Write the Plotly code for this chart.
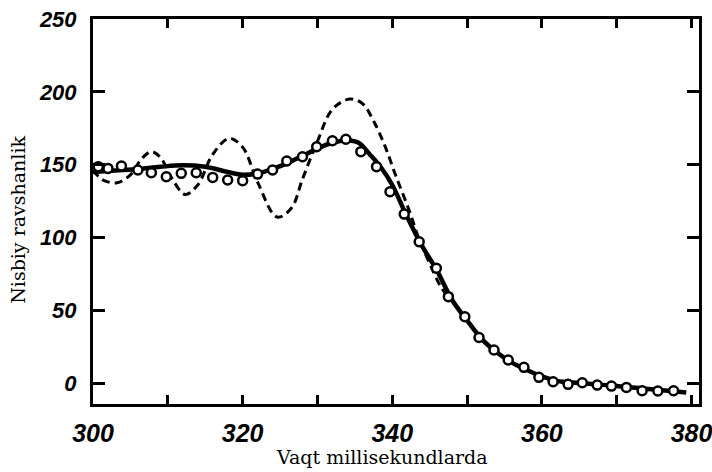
import plotly.graph_objects as go

# Measured relative brightness (open circles)
meas_t = [300.7, 302.0, 303.8, 306.0, 307.8, 309.8, 311.8, 313.8, 316.0, 318.0,
          320.0, 322.0, 324.0, 325.9, 328.0, 329.9, 332.0, 333.8, 335.8, 337.9,
          339.7, 341.6, 343.6, 345.9, 347.5, 349.7, 351.6, 353.6, 355.5, 357.6,
          359.6, 361.5, 363.5, 365.4, 367.4, 369.3, 371.3, 373.4, 375.5, 377.6]
meas_b = [148.6, 147.4, 149.0, 146.3, 144.4, 141.7, 144.0, 144.4, 141.2, 139.4,
          139.0, 143.5, 146.3, 152.5, 155.4, 162.3, 166.4, 167.4, 158.9, 148.6,
          131.4, 116.0, 97.0, 78.8, 59.3, 45.5, 31.3, 22.7, 15.8, 10.8,
          3.9, 0.9, -0.9, 0.2, -1.4, -2.1, -3.0, -5.3, -5.5, -5.3]

# Smooth fitted curve (solid line)
fit_t = [300, 303, 306, 309, 312, 315, 318, 320, 322, 324, 326, 328, 330, 332,
         334, 335.5, 337, 338.5, 340, 342, 344, 346, 348, 350, 352, 354, 356,
         358, 360, 362, 365, 370, 375, 379.3]
fit_b = [145, 146, 147, 148.5, 149.5, 148.5, 145, 143, 144, 147, 151, 156, 161,
         165, 166.5, 165, 157, 148, 136, 114, 94, 77, 57, 43, 30, 21, 14,
         9, 4.5, 1.5, 0, -2, -4.5, -6.5]

# Oscillating curve (dashed line)
osc_t = [300.0, 300.7, 301.5, 303.2, 305.0, 306.5, 307.8, 309.0, 310.5, 312.3,
         314.0, 316.0, 318.2, 320.0, 322.0, 324.6, 326.5, 328.0, 330.0, 332.0,
         334.3, 336.0, 337.5, 339.0, 340.5, 342.3, 343.5, 345.0, 346.5, 347.5]
osc_b = [146, 142, 139, 137.5, 143, 154, 158.9, 155, 141, 129.5,
         136, 157, 168, 162, 138, 114, 120, 140, 166, 188,
         195, 192, 180, 163, 142, 118, 100, 82, 66, 59]

x_ticks = [300, 310, 320, 330, 340, 350, 360, 370, 380]
x_labels = ["300", "", "320", "", "340", "", "360", "", "380"]
y_ticks = [0, 50, 100, 150, 200, 250]
y_labels = ["0", "50", "100", "150", "200", "250"]


def slanted(labels):
    return ["<b><i>%s</i></b>" % s if s else "" for s in labels]


tick_family = "Liberation Sans, Arial, sans-serif"
title_font = dict(family="DejaVu Serif, Liberation Serif, serif", size=19, color="black")

fig = go.Figure()
fig.add_trace(go.Scatter(x=osc_t, y=osc_b, mode="lines", line_shape="spline",
                         line=dict(color="black", width=3, dash="8px,5px"),
                         showlegend=False))
fig.add_trace(go.Scatter(x=fit_t, y=fit_b, mode="lines", line_shape="spline",
                         line=dict(color="black", width=4.5), showlegend=False))
fig.add_trace(go.Scatter(x=meas_t, y=meas_b, mode="markers",
                         marker=dict(symbol="circle", size=9, color="white",
                                     line=dict(color="black", width=2.5)),
                         showlegend=False))

fig.update_xaxes(range=[300, 381], tickvals=x_ticks, ticktext=slanted(x_labels),
                 ticks="inside", ticklen=9, tickwidth=2.5, tickcolor="black",
                 showline=True, linewidth=3, linecolor="black", mirror="ticks",
                 showgrid=False, zeroline=False, automargin=False,
                 ticklabeloverflow="allow",
                 tickfont=dict(family=tick_family, size=25, color="black"),
                 ticklabelstandoff=5)
fig.update_yaxes(range=[-14.4, 250], tickvals=y_ticks, ticktext=slanted(y_labels),
                 ticks="inside", ticklen=12, tickwidth=2.5, tickcolor="black",
                 showline=True, linewidth=3, linecolor="black", mirror="ticks",
                 showgrid=False, zeroline=False, automargin=False,
                 ticklabeloverflow="allow",
                 tickfont=dict(family=tick_family, size=22, color="black"),
                 ticklabelstandoff=9)

fig.add_annotation(text="Vaqt millisekundlarda", xref="paper", yref="paper",
                   x=0.477, y=-0.137, showarrow=False, font=title_font,
                   xanchor="center", yanchor="middle")
fig.add_annotation(text="Nisbiy ravshanlik", xref="paper", yref="paper",
                   x=-0.124, y=0.478, showarrow=False, font=title_font,
                   textangle=-90, xanchor="center", yanchor="middle")

fig.update_layout(width=712, height=472,
                  margin=dict(l=93, r=13, t=19, b=68, autoexpand=False),
                  paper_bgcolor="white", plot_bgcolor="white")

fig.write_html("out.html")
